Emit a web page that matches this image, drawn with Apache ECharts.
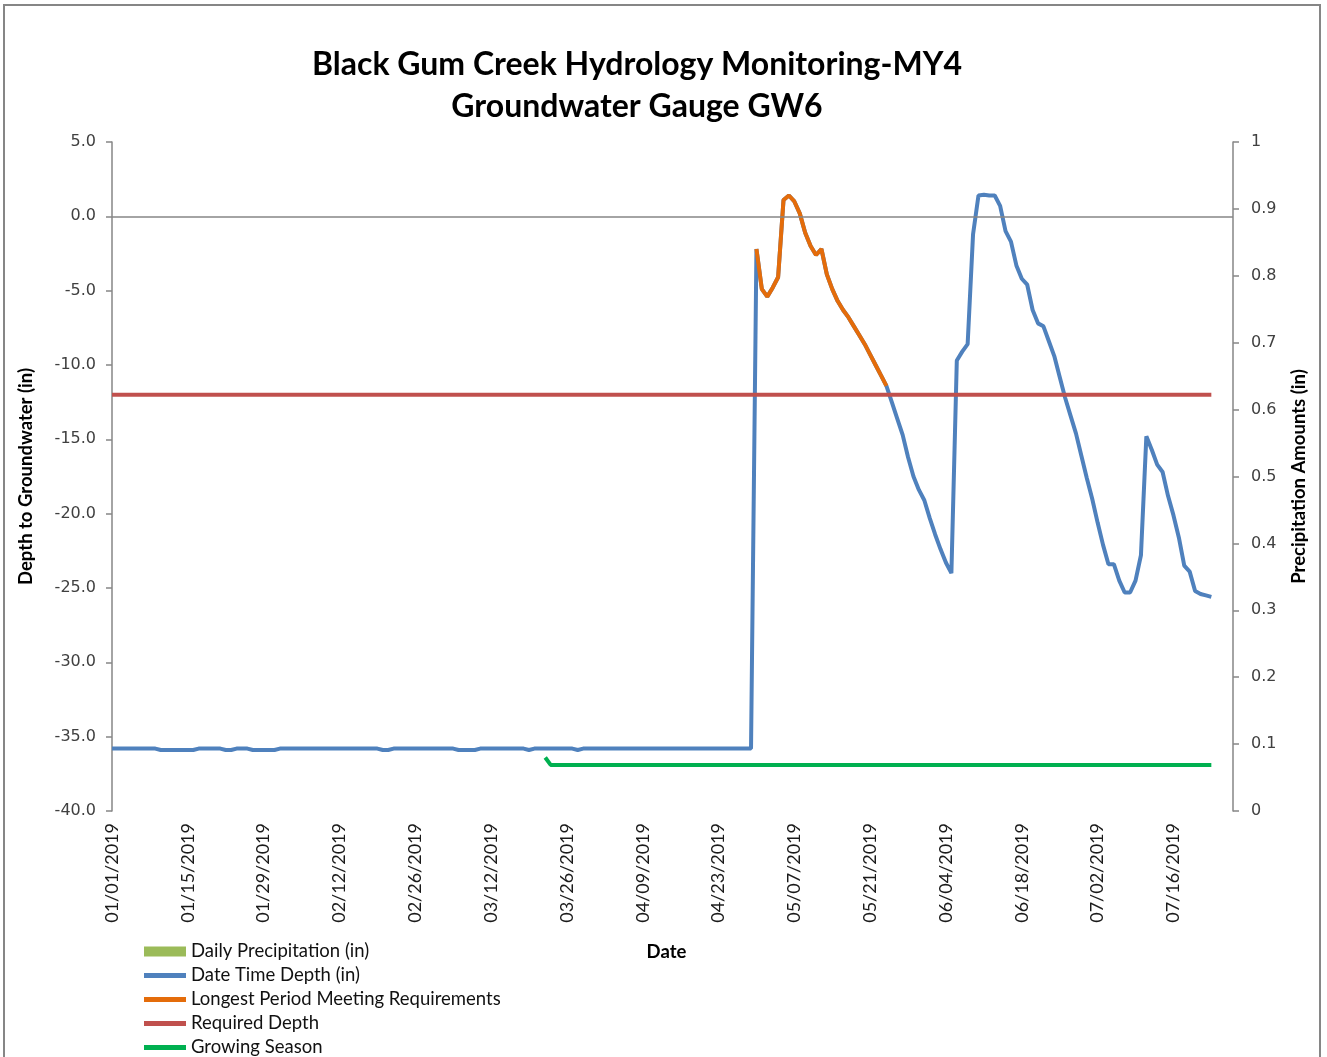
<!DOCTYPE html>
<html>
<head>
<meta charset="utf-8">
<script src="https://cdn.jsdelivr.net/npm/echarts@6/dist/echarts.min.js"></script>
<style>
    html, body { margin: 0; padding: 0; background: #fff; }
    #container { width: 1327px; height: 1057px; }
</style>
</head>
<body>
<div id="container"></div>
<script>
// day 0 = 01/01/2019
var startYear = 2019;
var axisMaxDay = 207;
var tickStep = 14;

// Date Time Depth (in), one value per day from 01/01/2019
var depthValues = [
    -35.8, -35.8, -35.8, -35.8, -35.8, -35.8, -35.8, -35.8, -35.8, -35.9,
    -35.9, -35.9, -35.9, -35.9, -35.9, -35.9, -35.8, -35.8, -35.8, -35.8,
    -35.8, -35.9, -35.9, -35.8, -35.8, -35.8, -35.9, -35.9, -35.9, -35.9,
    -35.9, -35.8, -35.8, -35.8, -35.8, -35.8, -35.8, -35.8, -35.8, -35.8,
    -35.8, -35.8, -35.8, -35.8, -35.8, -35.8, -35.8, -35.8, -35.8, -35.8,
    -35.9, -35.9, -35.8, -35.8, -35.8, -35.8, -35.8, -35.8, -35.8, -35.8,
    -35.8, -35.8, -35.8, -35.8, -35.9, -35.9, -35.9, -35.9, -35.8, -35.8,
    -35.8, -35.8, -35.8, -35.8, -35.8, -35.8, -35.8, -35.9, -35.8, -35.8,
    -35.8, -35.8, -35.8, -35.8, -35.8, -35.8, -35.9, -35.8, -35.8, -35.8,
    -35.8, -35.8, -35.8, -35.8, -35.8, -35.8, -35.8, -35.8, -35.8, -35.8,
    -35.8, -35.8, -35.8, -35.8, -35.8, -35.8, -35.8, -35.8, -35.8, -35.8,
    -35.8, -35.8, -35.8, -35.8, -35.8, -35.8, -35.8, -35.8, -35.8, -2.2,
    -4.9, -5.4, -4.8, -4.1, 1.1, 1.4, 1.0, 0.2, -1.1, -2.0,
    -2.6, -2.2, -3.9, -4.9, -5.7, -6.3, -6.8, -7.4, -8.0, -8.6,
    -9.3, -10.0, -10.7, -11.4, -12.5, -13.6, -14.7, -16.2, -17.5, -18.4,
    -19.1, -20.3, -21.4, -22.4, -23.3, -24.0, -9.7, -9.1, -8.6, -1.2,
    1.4, 1.45, 1.4, 1.4, 0.7, -1.0, -1.7, -3.3, -4.2, -4.6,
    -6.3, -7.2, -7.4, -8.4, -9.4, -10.8, -12.2, -13.4, -14.6, -16.1,
    -17.6, -19.0, -20.6, -22.1, -23.4, -23.4, -24.5, -25.3, -25.3, -24.5,
    -22.8, -14.8, -15.7, -16.7, -17.2, -18.8, -20.1, -21.6, -23.5, -23.9,
    -25.2, -25.4, -25.5, -25.6
];

// Longest Period Meeting Requirements (04/30 - 05/24)
var longestStartDay = 119;
var longestValues = [
    -2.2, -4.9, -5.4, -4.8, -4.1, 1.1, 1.4, 1.0, 0.2, -1.1,
    -2.0, -2.6, -2.2, -3.9, -4.9, -5.7, -6.3, -6.8, -7.4, -8.0,
    -8.6, -9.3, -10.0, -10.7, -11.4
];

// Required Depth: [day, value]
var requiredDepth = [[0, -12], [203, -12]];

// Growing Season: [day, value]
var growingSeason = [[80, -36.4], [81, -36.9], [203, -36.9]];

// Daily Precipitation (in) - no bars visible in this period
var precipValues = [];

var titleFont = 'Lato';
var axisColor = '#868686';
var lineIcon = 'path://M0,0 L84,0 L84,10 L0,10 Z';

function dayLabel(day) {
    var d = new Date(Date.UTC(startYear, 0, 1 + day));
    var mm = ('0' + (d.getUTCMonth() + 1)).slice(-2);
    var dd = ('0' + d.getUTCDate()).slice(-2);
    return mm + '/' + dd + '/' + d.getUTCFullYear();
}

var dom = document.getElementById('container');
var myChart = echarts.init(dom, null, { renderer: 'canvas' });

var depthData = depthValues.map(function (v, i) { return [i, v]; });
var longestData = longestValues.map(function (v, i) { return [longestStartDay + i, v]; });

var nameStyle = { fontFamily: titleFont, fontWeight: 'bold', fontSize: 18.5, color: '#000' };

var option = {
    backgroundColor: '#fff',
    animation: false,
    title: {
        text: 'Black Gum Creek Hydrology Monitoring-MY4\nGroundwater Gauge GW6',
        left: 632,
        top: 39,
        textAlign: 'center',
        textStyle: {
            fontFamily: titleFont,
            fontWeight: 'bold',
            fontSize: 32,
            lineHeight: 42,
            color: '#000'
        }
    },
    graphic: [{
        type: 'rect',
        shape: { x: 4, y: 5, width: 1316, height: 1070 },
        style: { fill: 'none', stroke: axisColor, lineWidth: 2 },
        silent: true
    }],
    legend: {
        orient: 'vertical',
        left: 144,
        top: 942,
        height: 160,
        padding: 0,
        itemWidth: 42,
        itemHeight: 10,
        itemGap: 5,
        textStyle: { fontFamily: titleFont, fontSize: 18.5, color: '#111' },
        data: [
            { name: 'Daily Precipitation (in)', icon: 'rect' },
            { name: 'Date Time Depth (in)', icon: lineIcon },
            { name: 'Longest Period Meeting Requirements', icon: lineIcon },
            { name: 'Required Depth', icon: lineIcon },
            { name: 'Growing Season', icon: lineIcon }
        ]
    },
    grid: {
        left: 112,
        right: 94,
        top: 142,
        bottom: 246,
        containLabel: false
    },
    xAxis: {
        type: 'value',
        min: 0,
        max: axisMaxDay,
        interval: tickStep,
        name: 'Date',
        nameLocation: 'middle',
        nameGap: 132,
        nameTextStyle: Object.assign({ padding: [0, 12, 0, 0] }, nameStyle),
        axisLine: { show: false },
        axisTick: { show: false },
        splitLine: { show: false },
        axisLabel: {
            rotate: 90,
            margin: 12,
            showMaxLabel: false,
            fontFamily: titleFont,
            fontSize: 18,
            color: '#1a1a1a',
            formatter: function (v) { return dayLabel(v); }
        }
    },
    yAxis: [{
        type: 'value',
        min: -40,
        max: 5,
        interval: 5,
        name: 'Depth to Groundwater (in)',
        nameLocation: 'middle',
        nameGap: 76,
        nameTextStyle: nameStyle,
        axisLine: { show: true, lineStyle: { color: axisColor, width: 1.5 } },
        axisTick: { show: true, length: 6, lineStyle: { color: axisColor, width: 1.5 } },
        splitLine: { show: false },
        axisLabel: {
            margin: 16,
            fontFamily: 'DejaVu Sans',
            fontSize: 16,
            color: '#404040',
            formatter: function (v) { return v.toFixed(1); }
        }
    }, {
        type: 'value',
        min: 0,
        max: 1,
        interval: 0.1,
        position: 'right',
        name: 'Precipitation Amounts (in)',
        nameLocation: 'middle',
        nameGap: 57,
        nameTextStyle: nameStyle,
        axisLine: { show: true, lineStyle: { color: axisColor, width: 1.5 } },
        axisTick: { show: true, length: 6, lineStyle: { color: axisColor, width: 1.5 } },
        splitLine: { show: false },
        axisLabel: {
            margin: 18,
            fontFamily: 'DejaVu Sans',
            fontSize: 16,
            color: '#404040'
        }
    }],
    series: [{
        name: 'Daily Precipitation (in)',
        type: 'bar',
        yAxisIndex: 1,
        itemStyle: { color: '#9BBB59' },
        data: precipValues
    }, {
        name: 'Date Time Depth (in)',
        type: 'line',
        symbol: 'none',
        z: 3,
        lineStyle: { color: '#4F81BD', width: 4 },
        itemStyle: { color: '#4F81BD' },
        data: depthData,
        markLine: {
            silent: true,
            symbol: ['none', 'none'],
            label: { show: false },
            lineStyle: { color: axisColor, width: 1.5, type: 'solid' },
            data: [{ yAxis: 0 }]
        }
    }, {
        name: 'Longest Period Meeting Requirements',
        type: 'line',
        symbol: 'none',
        z: 4,
        lineStyle: { color: '#E46C0A', width: 4 },
        itemStyle: { color: '#E46C0A' },
        data: longestData
    }, {
        name: 'Required Depth',
        type: 'line',
        symbol: 'none',
        z: 5,
        lineStyle: { color: '#C0504D', width: 4 },
        itemStyle: { color: '#C0504D' },
        data: requiredDepth
    }, {
        name: 'Growing Season',
        type: 'line',
        symbol: 'none',
        z: 5,
        lineStyle: { color: '#00B050', width: 4 },
        itemStyle: { color: '#00B050' },
        data: growingSeason
    }]
};

myChart.setOption(option);
</script>
</body>
</html>
